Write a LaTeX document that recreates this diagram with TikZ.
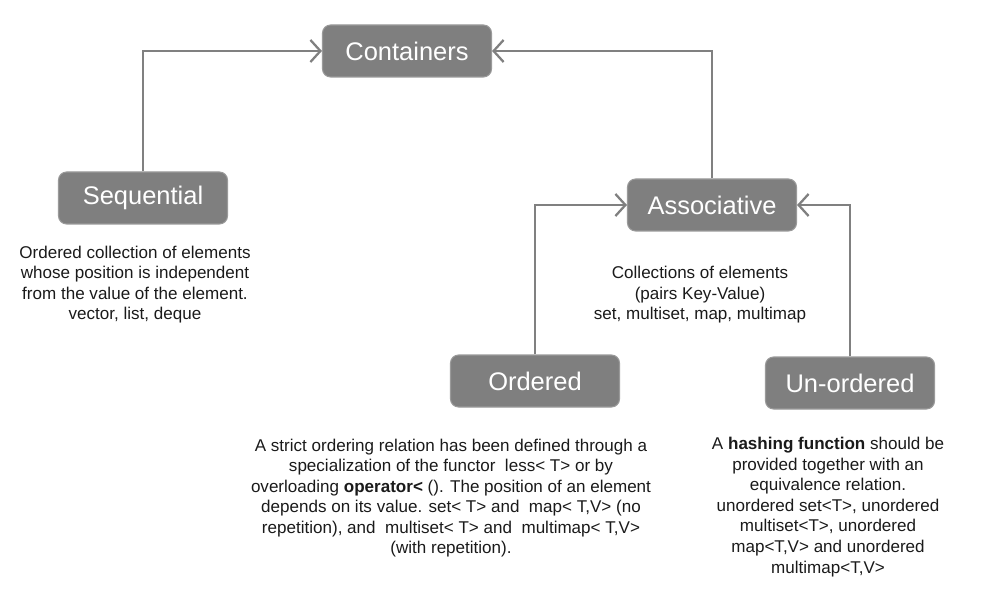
\documentclass[tikz,border=0pt]{standalone}
\usepackage{fontspec}
\setmainfont{Liberation Sans}
\usetikzlibrary{arrows.meta}
\definecolor{boxgray}{HTML}{7F7F7F}
\definecolor{boxedge}{HTML}{9A9A9A}
\definecolor{linegray}{HTML}{808080}
\definecolor{textdark}{HTML}{1A1A1A}
\tikzset{> = {Straight Barb[length=2mm,width=4.4mm,line width=1.3pt]}, every picture/.style={line width=1.3pt}}

\begin{document}
\begin{tikzpicture}
\useasboundingbox (0,0) rectangle (19.64,-12.16);
\begin{scope}[every node/.style={rectangle,rounded corners=0.16cm,fill=boxgray,draw=boxedge,line width=0.6pt,
    text=white,minimum width=3.38cm,minimum height=1.04cm,font=\fontsize{14.5}{17}\selectfont}]
\node (cont) at (8.14,-1.02) {Containers};
\node (seq) at (2.86,-3.96) {Sequential};
\node (assoc) at (14.24,-4.10) {Associative};
\node (ord) at (10.70,-7.62) {Ordered};
\node (unord) at (17.00,-7.66) {Un-ordered};
\end{scope}

\begin{scope}[every node/.style={align=center,text=textdark,font=\fontsize{9.7}{11.7}\selectfont}]
\node (seqtxt) at (2.70,-5.69) {Ordered collection of elements\\whose position is independent\\from the value of the element.\\vector, list, deque};
\node (assoctxt) at (14.00,-5.90) {Collections of elements\\(pairs Key-Value)\\set, multiset, map, multimap};
\node (ordtxt) at (9.02,-9.96) {A strict ordering relation has been defined through a\\specialization of the functor\ \ less< T> or by\\overloading \textbf{operator<} (). The position of an element\\depends on its value. set< T> and\ \ map< T,V> (no\\repetition), and\ \ multiset< T> and\ \ multimap< T,V>\\(with repetition).};
\node (unordtxt) at (16.56,-10.14) {A \textbf{hashing function} should be\\provided together with an\\equivalence relation.\\unordered set<T>, unordered\\multiset<T>, unordered\\map<T,V> and unordered\\multimap<T,V>};
\end{scope}

\begin{scope}[draw=linegray]
    \draw [->] (seq) |- (cont);
    \draw [->] (assoc) |- (cont);
    \draw [->] (ord) |- (assoc);
    \draw [->] (unord) |- (assoc);
\end{scope}
\end{tikzpicture}
\end{document}
